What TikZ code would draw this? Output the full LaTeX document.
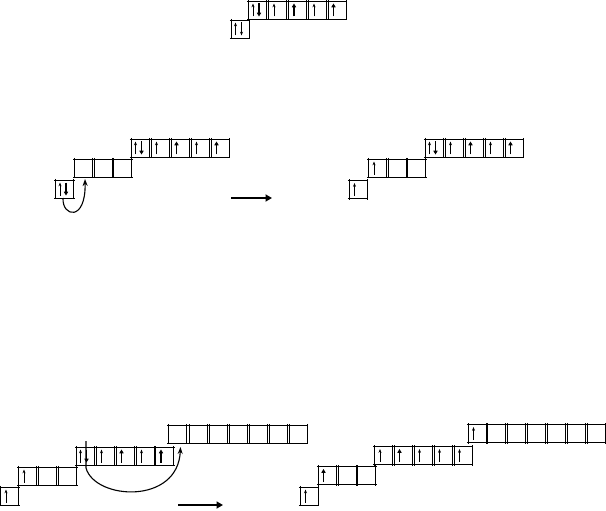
\documentclass[tikz,border=0pt]{standalone}
\usetikzlibrary{arrows.meta,calc}
\tikzset{
  orb/.style={draw=none, minimum width=18pt, minimum height=18pt, inner sep=0pt, outer sep=0pt},
  orbedge/.style={line width=0.85pt, black},
  sthin/.style={line width=0.6pt, -{Stealth[length=3.8pt,width=3pt]}},
  sbold/.style={line width=1.8pt, -{Triangle[length=3.8pt,width=4.2pt]}},
  jump/.style={line width=1.1pt, -{Stealth[length=7pt,width=5pt]}},
  bigarrow/.style={line width=2pt, -{Triangle[length=6.5pt,width=7pt]}}
}
\newcommand\orbbox[2]{\node[orb] (#1) at (#2) {};
  \draw[orbedge] ([yshift=1.2pt]#1.north west) -- ([yshift=-1.2pt]#1.south west)
    ([yshift=1.2pt]#1.north east) -- ([yshift=-1.2pt]#1.south east)
    ([xshift=-1.2pt]#1.north west) -- ([xshift=1.2pt]#1.north east)
    ([xshift=-1.2pt]#1.south west) -- ([xshift=1.2pt]#1.south east);}
\newcommand\spinu[1]{\draw[sthin] ($(#1.center)+(-3.5,6.5)$) -- ++(0,-13);}
\newcommand\spinU[1]{\draw[sbold] ($(#1.center)+(-3.5,6.5)$) -- ++(0,-13);}
\newcommand\spinud[1]{\draw[sthin] ($(#1.center)+(-4.5,6.5)$) -- ++(0,-13);
  \draw[sbold] ($(#1.center)+(1.5,-6.5)$) -- ++(0,13);}
\newcommand\spinuud[1]{\draw[sthin] ($(#1.center)+(-4.5,6.5)$) -- ++(0,-13);
  \draw[sthin] ($(#1.center)+(1.5,-6.5)$) -- ++(0,13);}
\begin{document}
\begin{tikzpicture}[x=1pt,y=-1pt]
\useasboundingbox (0,0) rectangle (606,511);
% ---- top ----
\orbbox{ta1}{257.5,10}\orbbox{ta2}{277.5,10}\orbbox{ta3}{297.5,10}\orbbox{ta4}{317.5,10}\orbbox{ta5}{337,10}
\orbbox{tb1}{240,29}
\spinud{ta1}\spinu{ta2}\spinU{ta3}\spinu{ta4}\spinU{ta5}
\spinuud{tb1}
% ---- middle left ----
\orbbox{ma1}{140,148}\orbbox{ma2}{160,148}\orbbox{ma3}{180,148}\orbbox{ma4}{200,148}\orbbox{ma5}{220,148}
\orbbox{mb1}{83.5,168}\orbbox{mb2}{103,168}\orbbox{mb3}{122.5,168}
\orbbox{mc1}{64.5,189}
\spinud{ma1}\spinu{ma2}\spinU{ma3}\spinu{ma4}\spinU{ma5}
\spinud{mc1}
\coordinate (mjs) at ($(mc1.south)+(-1.5,0)$);
\coordinate (mje) at ($(mb1.south)+(1.5,2)$);
\draw[jump] (mjs) .. controls (62,217) and (86,222) .. (mje);
\coordinate (mas) at (231,198);
\coordinate (mae) at (272,198);
\draw[bigarrow] (mas) -- (mae);
% ---- middle right ----
\orbbox{na1}{434,148}\orbbox{na2}{454,148}\orbbox{na3}{474,148}\orbbox{na4}{494,148}\orbbox{na5}{514,148}
\orbbox{nb1}{377.5,168}\orbbox{nb2}{397,168}\orbbox{nb3}{416.5,168}
\orbbox{nc1}{358,189.5}
\spinud{na1}\spinu{na2}\spinU{na3}\spinu{na4}\spinU{na5}
\spinu{nb1}
\spinu{nc1}
% ---- bottom left ----
\orbbox{pa1}{177.5,434}\orbbox{pa2}{198,434}\orbbox{pa3}{218,434}\orbbox{pa4}{238,434}\orbbox{pa5}{258,434}\orbbox{pa6}{278,434}\orbbox{pa7}{298,434}
\orbbox{pb1}{85,456}\orbbox{pb2}{105,456}\orbbox{pb3}{125,456}\orbbox{pb4}{145,456}\orbbox{pb5}{164.5,456}
\orbbox{pc1}{27.5,476}\orbbox{pc2}{47.5,476}\orbbox{pc3}{67.5,476}
\orbbox{pd1}{9.5,496}
\spinud{pb1}\spinu{pb2}\spinU{pb3}\spinu{pb4}\spinU{pb5}
\spinu{pc1}
\spinu{pd1}
\coordinate (pjs) at ($(pb1.north)+(1,-6)$);
\coordinate (pjm) at ($(pb1.south)+(1,3)$);
\coordinate (pje) at ($(pb5.north east)+(7,0)$);
\draw[jump] (pjs) -- (pjm) .. controls (95,500) and (178,505) .. (pje);
\coordinate (pas) at (178,505);
\coordinate (pae) at (223,505);
\draw[bigarrow] (pas) -- (pae);
% ---- bottom right ----
\orbbox{qa1}{477,433.5}\orbbox{qa2}{496.5,433.5}\orbbox{qa3}{516,433.5}\orbbox{qa4}{536,433.5}\orbbox{qa5}{556,433.5}\orbbox{qa6}{576,433.5}\orbbox{qa7}{596,433.5}
\orbbox{qb1}{383.5,455.5}\orbbox{qb2}{403,455.5}\orbbox{qb3}{423,455.5}\orbbox{qb4}{443,455.5}\orbbox{qb5}{463,455.5}
\orbbox{qc1}{327,475.5}\orbbox{qc2}{347,475.5}\orbbox{qc3}{366.5,475.5}
\orbbox{qd1}{309,496}
\spinu{qa1}
\spinu{qb1}\spinU{qb2}\spinu{qb3}\spinu{qb4}\spinu{qb5}
\spinU{qc1}
\spinu{qd1}
\end{tikzpicture}
\end{document}
